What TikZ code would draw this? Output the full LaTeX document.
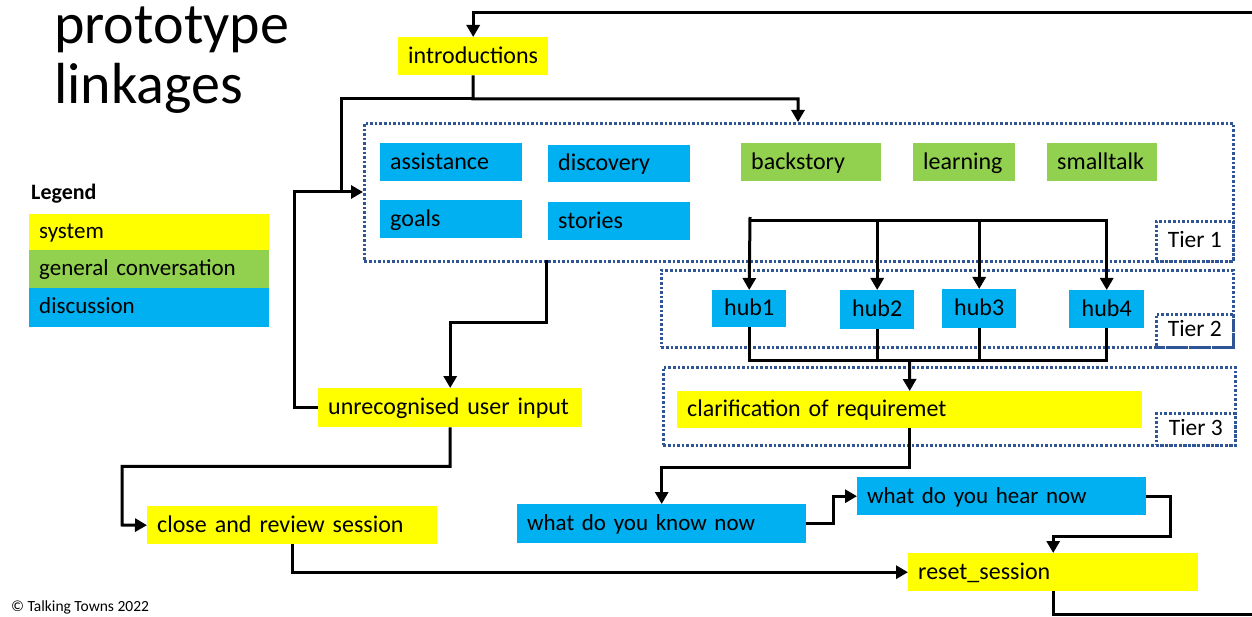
\documentclass[tikz,border=0pt]{standalone}
\usepackage{fontspec}
\setmainfont{Carlito}
\usetikzlibrary{arrows.meta}
\definecolor{sysY}{HTML}{FFFF00}
\definecolor{genG}{HTML}{92D050}
\definecolor{disB}{HTML}{00B0F0}
\definecolor{dotB}{HTML}{2F5597}
\tikzset{
  nd/.style={rectangle, anchor=north west, inner xsep=10pt, inner ysep=0pt, align=left,
    font=\fontsize{24}{28}\selectfont, text height=18pt, text depth=4pt},
  narrow/.style={font=\fontsize{23}{27}\selectfont},
  hubbox/.style={rectangle, anchor=north west, inner sep=0pt, align=center, fill=disB,
    font=\fontsize{24}{28}\selectfont, text height=18pt, text depth=4pt},
  sys/.style={nd, fill=sysY},
  gen/.style={nd, fill=genG},
  dis/.style={nd, fill=disB},
  tierbox/.style={rectangle, anchor=north west, draw=dotB, line width=2.6pt,
    dash pattern=on 2.6pt off 2pt, inner sep=0pt},
  tierlab/.style={tierbox, font=\fontsize{23.5}{26}\selectfont, text height=16pt, text depth=4pt},
  lgd/.style={rectangle, anchor=north west, inner xsep=10pt, inner ysep=0pt, align=left,
    minimum width=240pt, text width=220pt, font=\fontsize{23}{26}\selectfont,
    text height=17pt, text depth=5pt},
  ln/.style={line width=3pt},
  arr/.style={line width=3pt, -{Triangle[length=12pt,width=13pt]}}
}
\begin{document}
\begin{tikzpicture}[x=1pt,y=-1pt]
\fill[white] (0,0) rectangle (1252,617);
\useasboundingbox (0,0) rectangle (1252,617);

% title
\node[anchor=base west, inner sep=0pt, font=\fontsize{58}{60}\selectfont] (t1) at (54,44) {prototype};
\node[anchor=base west, inner sep=0pt, font=\fontsize{58}{60}\selectfont] (t2) at (54,104) {linkages};

% legend
\node[anchor=west, inner sep=0pt, font=\fontsize{22}{26}\selectfont\bfseries] (lg) at (31,194) {Legend};
\node[lgd, fill=sysY, minimum height=36pt] (lg1) at (29,214) {system};
\node[lgd, fill=genG, minimum height=38pt] (lg2) at (29,250) {general conversation};
\node[lgd, fill=disB, minimum height=39pt] (lg3) at (29,288) {discussion};

% copyright
\node[anchor=west, inner sep=0pt, font=\fontsize{15.5}{17}\selectfont] (cp) at (11,607) {© Talking Towns 2022};

% tier boxes
\node[tierbox, minimum width=869pt, minimum height=138pt] (tier1) at (363,122) {};
\node[tierlab, minimum width=77pt, minimum height=40pt] (tl1) at (1155,220) {Tier 1};
\node[tierbox, minimum width=572pt, minimum height=77pt] (tier2) at (660,269) {};
\node[tierlab, minimum width=77pt, minimum height=33pt] (tl2) at (1155,313) {Tier 2};
\node[tierbox, minimum width=572pt, minimum height=78pt] (tier3) at (662,366) {};
\node[tierlab, minimum width=79pt, minimum height=32pt] (tl3) at (1155,412) {Tier 3};

% nodes
\node[sys, minimum width=150pt, text width=130pt, minimum height=38pt] (intro) at (398,37) {introductions};
\node[dis, minimum width=142pt, text width=122pt, minimum height=38pt] (assist) at (380,143) {assistance};
\node[dis, minimum width=142pt, text width=122pt, minimum height=37pt] (disc) at (548,145) {discovery};
\node[dis, minimum width=142pt, text width=122pt, minimum height=38pt] (goals) at (380,200) {goals};
\node[dis, minimum width=142pt, text width=122pt, minimum height=38pt] (stories) at (548,202) {stories};
\node[gen, minimum width=140pt, text width=120pt, minimum height=38pt] (back) at (741,143) {backstory};
\node[gen, minimum width=102pt, text width=82pt, minimum height=38pt] (learn) at (913,143) {learning};
\node[gen, minimum width=110pt, text width=90pt, minimum height=38pt] (small) at (1047,143) {smalltalk};

\node[hubbox, minimum width=74pt, minimum height=37pt] (hub1) at (712,290) {hub1};
\node[hubbox, minimum width=74pt, minimum height=39pt] (hub2) at (840,290) {hub2};
\node[hubbox, minimum width=74pt, minimum height=39pt] (hub3) at (942,289) {hub3};
\node[hubbox, minimum width=75pt, minimum height=38pt] (hub4) at (1069,290) {hub4};

\node[sys, minimum width=465pt, text width=445pt, minimum height=37pt] (clar) at (677,391) {clarification of requiremet};
\node[sys, minimum width=264pt, text width=244pt, minimum height=39pt] (unrec) at (318,388) {unrecognised user input};
\node[sys, minimum width=290pt, text width=270pt, minimum height=38pt] (close) at (147,506) {close and review session};
\node[dis, narrow, minimum width=289pt, text width=269pt, minimum height=39pt] (know) at (517,504) {what do you know now};
\node[dis, narrow, minimum width=289pt, text width=269pt, minimum height=38pt] (hear) at (857,477) {what do you hear now};
\node[sys, minimum width=290pt, text width=270pt, minimum height=38pt] (reset) at (908,553) {reset\_session};

% helper coordinates
\coordinate (topR) at (1252,13);
\coordinate (botR) at (1252,614);
\coordinate (j1) at (473,99);
\coordinate (t1top) at (798,122);
\coordinate (c1) at (294,192);
\coordinate (c2) at (341,192);
\coordinate (t1left) at (363,192);
\coordinate (t1bot) at (546,260);
\coordinate (c3) at (122,525);
\coordinate (hubsrc) at (750,217);
\coordinate (hb) at (750,221);
\coordinate (hc) at (909.5,360);
\coordinate (c4) at (1170,536);

% connectors
\draw[arr] (topR) -| (intro.north);
\draw[ln] (reset.south) |- (botR);
\draw[arr] (intro.south) -- (j1) -| (t1top);
\draw[ln] (j1) -| (c2);
\draw[arr] (unrec.west) -| (c1) -- (t1left);
\draw[arr] (t1bot) -- ++(0,63) -| (unrec.north);
\draw[arr] (unrec.south) -- ++(0,39) -| (c3) -- (close.west);
\draw[arr] (close.south) |- (reset.west);

\draw[arr] (hubsrc) -- (hub1.north);
\draw[ln] (hb) -- (1106.5,221);
\draw[arr] (hb) -| (hub2.north);
\draw[arr] (hb) -| (hub3.north);
\draw[arr] (hb) -| (hub4.north);

\draw[ln] (hub1.south) |- (hc);
\draw[ln] (hub2.south) |- (hc);
\draw[ln] (hub3.south) |- (hc);
\draw[ln] (hub4.south) |- (hc);
\draw[arr] (hc) -- (clar.north);

\draw[arr] (clar.south) -- ++(0,39) -| (know.north);
\draw[arr] (know.east) -- ++(27,0) |- (hear.west);
\draw[arr] (hear.east) -| (c4) -| (reset.north);
\end{tikzpicture}
\end{document}
